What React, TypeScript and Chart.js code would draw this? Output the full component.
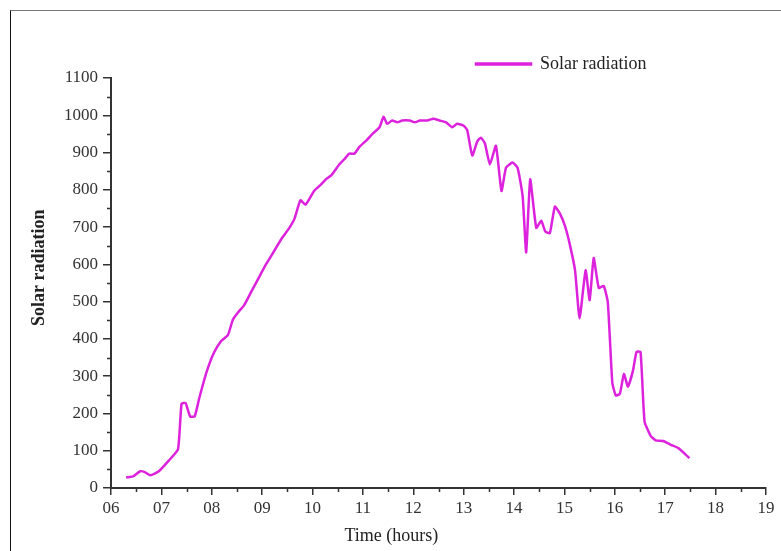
import React, { useEffect, useRef } from "react";
import { Chart, registerables } from "chart.js";

Chart.register(...registerables);

// Time of day (hours) and measured solar radiation
const hours = [
  6.3, 6.45, 6.58, 6.68, 6.78, 6.95, 7.15, 7.33, 7.4, 7.48,
  7.57, 7.66, 7.75, 7.89, 8.04, 8.19, 8.32, 8.42, 8.52, 8.64,
  8.79, 8.94, 9.09, 9.24, 9.39, 9.54, 9.64, 9.76, 9.86, 10.03,
  10.18, 10.28, 10.38, 10.53, 10.63, 10.73, 10.83, 10.93, 11.08, 11.18,
  11.33, 11.41, 11.48, 11.58, 11.68, 11.78, 11.93, 12.03, 12.13, 12.28,
  12.4, 12.52, 12.65, 12.77, 12.87, 13.0, 13.07, 13.17, 13.27, 13.34,
  13.42, 13.52, 13.64, 13.75, 13.84, 13.97, 14.07, 14.17, 14.24, 14.32,
  14.44, 14.54, 14.62, 14.71, 14.81, 14.91, 15.01, 15.11, 15.21, 15.3,
  15.42, 15.5, 15.58, 15.68, 15.78, 15.86, 15.95, 16.02, 16.1, 16.18,
  16.26, 16.36, 16.43, 16.51, 16.59, 16.71, 16.81, 16.96, 17.11, 17.26,
  17.38, 17.48,
];
const radiation = [
  28, 32, 45, 42, 34, 45, 74, 104, 226, 228,
  192, 192, 240, 308, 362, 395, 410, 452, 471, 490,
  528, 566, 603, 636, 670, 698, 722, 772, 760, 797,
  816, 830, 840, 868, 882, 897, 897, 915, 934, 949,
  968, 996, 977, 986, 981, 986, 986, 981, 986, 986,
  991, 986, 981, 968, 977, 972, 960, 892, 930, 940,
  925, 868, 918, 797, 859, 873, 859, 783, 632, 828,
  698, 717, 688, 684, 755, 736, 703, 651, 584, 455,
  584, 504, 617, 537, 542, 499, 282, 248, 253, 306,
  272, 315, 365, 365, 178, 140, 128, 126, 116, 107,
  93, 80,
];
const seriesLabel = "Solar radiation";
const xTitle = "Time (hours)";
const yTitle = "Solar radiation";
const xMin = 6;
const xMax = 19;
const yMin = 0;
const yMax = 1100;

const LINE_COLOR = "#dd22dd";
const AXIS_COLOR = "#333333";
const SERIF = "'Liberation Serif', 'Times New Roman', serif";

const decorPlugin = {
  id: "decor",
  afterLayout(chart: any) {
    const lg = chart.legend;
    if (!lg) return;
    lg.left = 466;
    lg.top = 45;
    lg.right = 700;
    lg.bottom = 85;
    lg.width = lg.right - lg.left;
    lg.height = lg.bottom - lg.top;
  },
  afterDraw(chart: any) {
    const ctx = chart.ctx;
    const xs = chart.scales.x;
    const ys = chart.scales.y;
    const ca = chart.chartArea;
    ctx.save();
    ctx.strokeStyle = AXIS_COLOR;
    ctx.lineWidth = 1.5;
    ctx.beginPath();
    for (let h = xMin + 0.5; h < xMax; h += 1) {
      const px = Math.round(xs.getPixelForValue(h)) + 0.5;
      ctx.moveTo(px, ca.bottom);
      ctx.lineTo(px, ca.bottom + 4);
    }
    for (let v = yMin + 50; v < yMax; v += 100) {
      const py = Math.round(ys.getPixelForValue(v)) + 0.5;
      ctx.moveTo(ca.left - 4, py);
      ctx.lineTo(ca.left, py);
    }
    ctx.stroke();

    ctx.fillStyle = "#222";
    ctx.textAlign = "center";
    ctx.textBaseline = "middle";
    ctx.font = `18px ${SERIF}`;
    ctx.fillText(xTitle, ca.left + (ca.right - ca.left) * 0.428, 536);
    ctx.translate(39, ca.top + (ca.bottom - ca.top) * 0.463);
    ctx.rotate(-Math.PI / 2);
    ctx.font = `bold 18px ${SERIF}`;
    ctx.fillText(yTitle, 0, 0);
    ctx.restore();
  },
};

export default function App() {
  const canvasRef = useRef<HTMLCanvasElement | null>(null);

  useEffect(() => {
    document.body.style.margin = "0";
    const canvas = canvasRef.current;
    if (!canvas) return;
    const chart = new Chart(canvas, {
      type: "line",
      data: {
        datasets: [
          {
            label: seriesLabel,
            data: hours.map((h, i) => ({ x: h, y: radiation[i] })),
            borderColor: LINE_COLOR,
            backgroundColor: LINE_COLOR,
            borderWidth: 2.5,
            pointRadius: 0,
            tension: 0.15,
            fill: false,
          },
        ],
      },
      options: {
        animation: false,
        responsive: false,
        maintainAspectRatio: false,
        layout: { padding: { top: 78, right: 15, bottom: 0, left: 0 } },
        plugins: {
          tooltip: { enabled: false },
          legend: {
            display: true,
            position: "chartArea",
            align: "start",
            labels: {
              boxWidth: 55,
              boxHeight: 1,
              padding: 10,
              color: "#222",
              font: { family: SERIF, size: 18 },
            },
          },
        },
        scales: {
          x: {
            type: "linear",
            min: xMin,
            max: xMax,
            afterFit: (s: any) => {
              s.height = 63;
            },
            ticks: {
              stepSize: 1,
              autoSkip: false,
              maxRotation: 0,
              padding: 3,
              color: AXIS_COLOR,
              font: { family: SERIF, size: 17 },
              callback: (v: any) => String(v).padStart(2, "0"),
            },
            grid: {
              drawOnChartArea: false,
              drawTicks: true,
              tickLength: 7,
              color: AXIS_COLOR,
              lineWidth: 1.5,
            },
            border: { display: true, color: AXIS_COLOR, width: 2 },
          },
          y: {
            type: "linear",
            min: yMin,
            max: yMax,
            afterFit: (s: any) => {
              s.width = 111;
            },
            ticks: {
              stepSize: 100,
              padding: 5,
              color: AXIS_COLOR,
              font: { family: SERIF, size: 17 },
              callback: (v: any) => String(v),
            },
            grid: {
              drawOnChartArea: false,
              drawTicks: true,
              tickLength: 8,
              color: AXIS_COLOR,
              lineWidth: 1.5,
            },
            border: { display: true, color: AXIS_COLOR, width: 2 },
          },
        },
      },
      plugins: [decorPlugin],
    });
    return () => chart.destroy();
  }, []);

  return (
    <div style={{ position: "relative", width: 781, height: 551, background: "#fff" }}>
      <canvas ref={canvasRef} width={781} height={551} style={{ display: "block" }} />
      <div
        style={{
          position: "absolute",
          left: 10,
          top: 10,
          right: 0,
          bottom: 0,
          borderTop: "1px solid #777",
          borderLeft: "1px solid #111",
          pointerEvents: "none",
        }}
      />
    </div>
  );
}
